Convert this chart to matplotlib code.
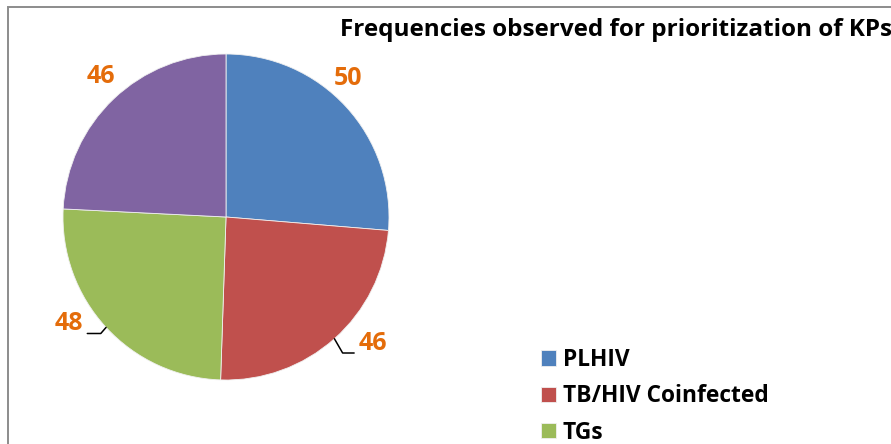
import numpy as np
import matplotlib.pyplot as plt
from matplotlib.patches import Rectangle

# données du graphique
categories = ['PLHIV', 'TB/HIV Coinfected', 'TGs', 'Others']
frequencies = [50, 46, 48, 46]
colors = ['#4F81BD', '#C0504D', '#9BBB59', '#8064A2']
title = 'Frequencies observed for prioritization of KPs'

plt.rcParams['font.family'] = ['Open Sans', 'DejaVu Sans']

W, H = 891, 444
fig = plt.figure(figsize=(W / 100, H / 100), dpi=100)
ax = fig.add_axes([0, 0, 1, 1])

# centre du camembert et rayon en pixels
cx, cy, r = 226, 217, 163

wedges, _ = ax.pie(frequencies, colors=colors, startangle=90, counterclock=False,
                   radius=1, wedgeprops=dict(edgecolor='#f0f0f0', linewidth=0.6))
ax.set_aspect('auto')
ax.set_xlim(-cx / r, (W - cx) / r)
ax.set_ylim(-(H - cy) / r, cy / r)
ax.axis('off')

# étiquettes des valeurs (décalage d'angle, distance, trait de rappel)
label_style = [
    dict(dang=6, dist=1.13, leader=False),
    dict(dang=4.6, dist=1.123, leader=True, angB=120, ha='left', relpos=(0, 0.12)),
    dict(dang=-5.8, dist=1.095, leader=True, angB=49, ha='right', relpos=(1, 0.12)),
    dict(dang=-2, dist=1.155, leader=False),
]
for w, v, st in zip(wedges, frequencies, label_style):
    mid = np.deg2rad((w.theta1 + w.theta2) / 2)
    ang = mid + np.deg2rad(st['dang'])
    tx, ty = st['dist'] * np.cos(ang), st['dist'] * np.sin(ang)
    if st['leader']:
        ex, ey = np.cos(mid), np.sin(mid)
        ax.annotate(str(v), xy=(ex, ey), xytext=(tx, ty), ha=st['ha'], va='center',
                    fontsize=18, fontweight='bold', color='#E46C0A',
                    arrowprops=dict(arrowstyle='-', color='black', lw=1.1, patchA=None,
                                    shrinkA=3, shrinkB=0, relpos=st['relpos'],
                                    connectionstyle=f"angle,angleA=0,angleB={st['angB']},rad=0"))
    else:
        ax.text(tx, ty, str(v), ha='center', va='center', fontsize=18,
                fontweight='bold', color='#E46C0A')

fig.text(340 / W, 1 - 30 / H, title, ha='left', va='center', fontsize=17.5, fontweight='bold')

fig.legend(wedges[:3], categories[:3], loc='upper left', bbox_to_anchor=(541 / W, 1 - 348 / H),
           frameon=False, prop=dict(size=16.4, weight='bold'), handlelength=0.66, handleheight=0.66,
           handletextpad=0.3, labelspacing=0.54, borderaxespad=0, borderpad=0)

fig.patches.append(Rectangle((8 / W, -0.1), 1.2, 1 - 7 / H + 0.1, transform=fig.transFigure,
                             fill=False, edgecolor='#8c8c8c', linewidth=1.4))

fig.savefig('out.png', dpi=100)
